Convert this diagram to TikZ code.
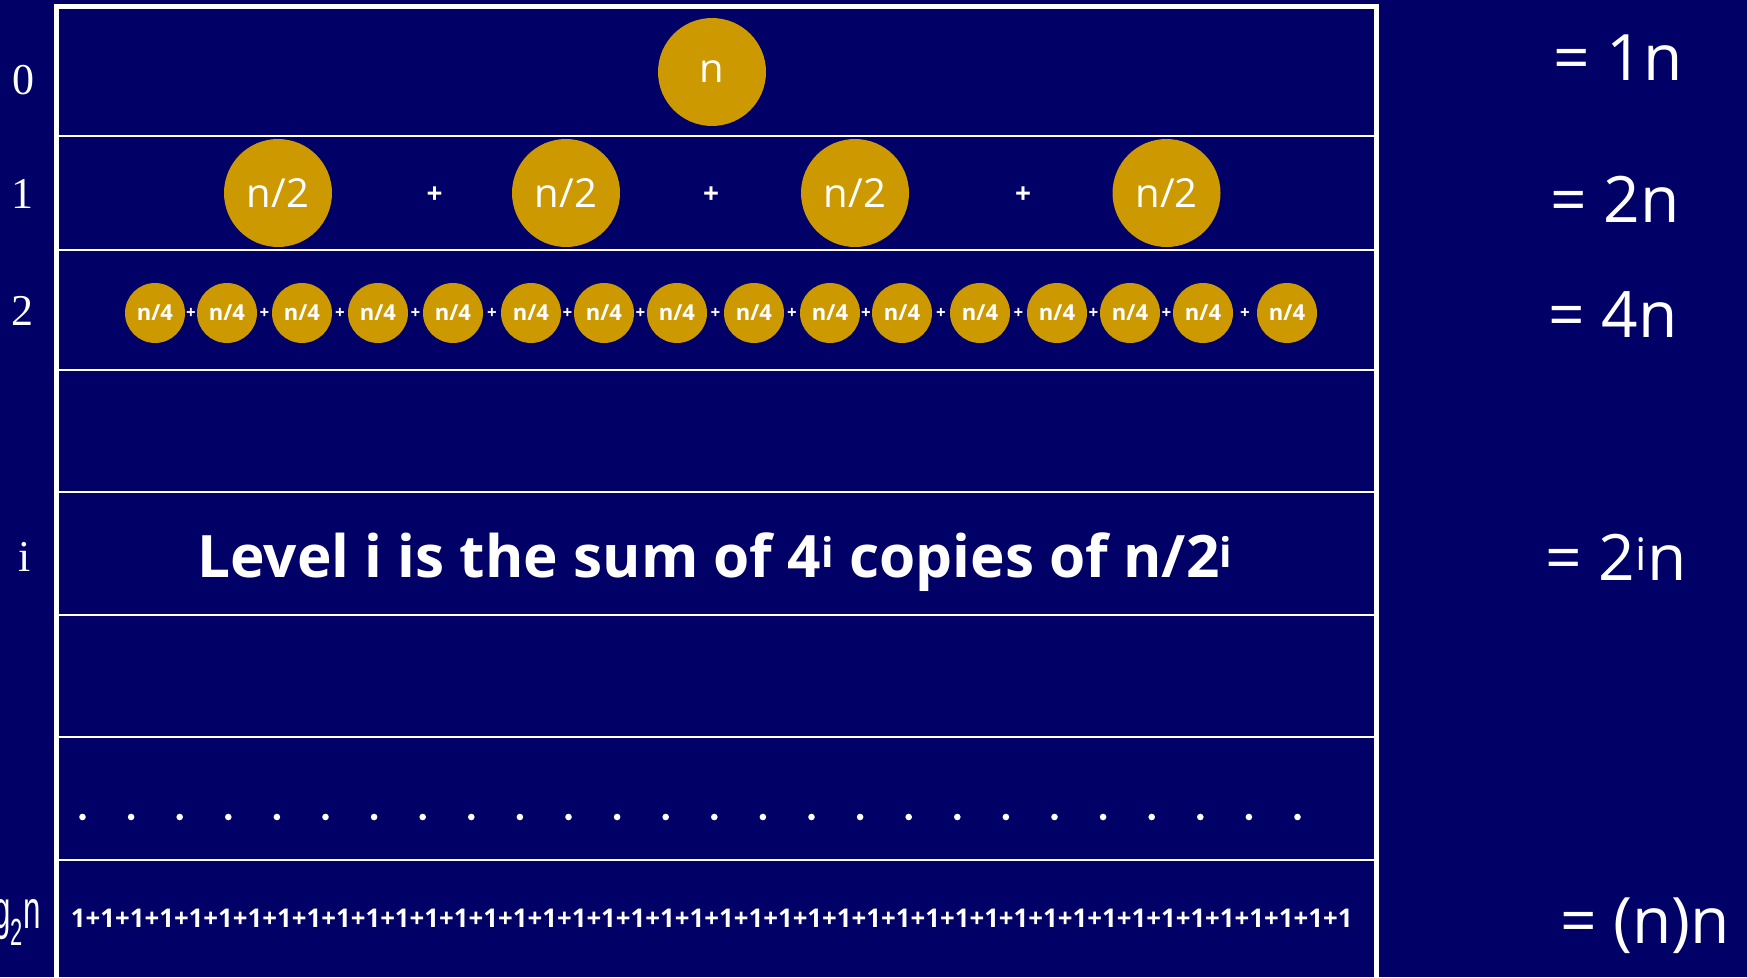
\documentclass[tikz,border=0pt]{standalone}
\usepackage{fontspec}
\setmainfont{Liberation Serif}
\newfontfamily\comicfont{Open Sans}
\newfontfamily\arialfont{Liberation Sans}
\usetikzlibrary{positioning}
\definecolor{slidebg}{RGB}{0,0,102}
\definecolor{gold}{RGB}{204,153,0}

\begin{document}
\begin{tikzpicture}[
  x=1pt, y=-1pt,
  big/.style={circle, fill=gold, minimum size=108pt, inner sep=0pt, text=white,
              font=\comicfont\fontsize{40}{44}\selectfont},
  small/.style={circle, fill=gold, minimum size=60pt, inner sep=0pt, text=white,
                font=\comicfont\bfseries\fontsize{22}{24}\selectfont},
  bigplus/.style={text=white, inner sep=0pt, font=\comicfont\bfseries\fontsize{28}{30}\selectfont},
  smallplus/.style={text=white, inner sep=0pt, font=\comicfont\bfseries\fontsize{17}{18}\selectfont},
  lvl/.style={text=white, inner sep=0pt, font=\fontsize{44}{48}\selectfont},
  total/.style={text=white, anchor=base, inner sep=0pt, font=\comicfont\fontsize{64}{70}\selectfont},
  rowline/.style={draw=white, line width=2.5pt}
]
\useasboundingbox (0,0) rectangle (1747,977);
\clip (0,0) rectangle (1747,977);
\fill[slidebg] (0,0) rectangle (1747,977);

% ===== Table frame and rows =====
\draw[white, line width=5pt] (56,6.5) rectangle (1376,1000);
\foreach \y in {136,250,370,492,615,737,860}
  \draw[rowline] (56,\y) -- (1376,\y);

% ===== Level numbers =====
\node[lvl] (l0) at (23.5,80) {0};
\node[lvl] (l1) at (23,194) {1};
\node[lvl] (l2) at (23,311) {2};
\node[lvl] (li) at (24.5,557) {i};
\node[text=white, anchor=base east, inner sep=0pt, font=\arialfont\fontsize{54}{58}\selectfont]
  (llg) at (41,928) {\scalebox{0.58}[1]{lg\textsubscript{2}n}};

% ===== Level 0 =====
\node[big] (n0) at (712,72) {n};

% ===== Level 1 =====
\node[big] (h1) at (278,193) {n/2};
\node[big] (h2) at (566,193) {n/2};
\node[big] (h3) at (855,193) {n/2};
\node[big] (h4) at (1166.5,193) {n/2};
\node[bigplus] (s1) at (434.5,195) {+};
\node[bigplus] (s2) at (711,195) {+};
\node[bigplus] (s3) at (1023,195) {+};

% ===== Level 2 =====
\foreach \x [count=\k] in {155,227,302,378,453,531,604,677,754,830,902,980,1057,1130,1203,1287}
  \node[small] (q\k) at (\x,313) {n/4};
\foreach \k [evaluate=\k as \j using int(\k+1)] in {1,...,15}
  \path (q\k) -- node[smallplus] (p\k) {+} (q\j);

% ===== Level i =====
\node[text=white, anchor=base, inner sep=0pt, font=\comicfont\bfseries\fontsize{58.5}{64}\selectfont]
  (lvltext) at (715,577) {Level i is the sum of 4\textsuperscript{i} copies of n/2\textsuperscript{i}};

% ===== Dots =====
\foreach \k in {0,...,25}
  \fill[white] (82.5+48.6*\k,817) circle (3.3);

% ===== Leaves =====
\node[text=white, anchor=base, inner sep=0pt, font=\comicfont\bfseries\fontsize{25.8}{28}\selectfont]
  (ones) at (711.5,927) {1+1+1+1+1+1+1+1+1+1+1+1+1+1+1+1+1+1+1+1+1+1+1+1+1+1+1+1+1+1+1+1+1+1+1+1+1+1+1+1+1+1+1+1};

% ===== Level totals =====
\node[total] (t0) at (1618,80) {= 1n};
\node[total] (t1) at (1615,222) {= 2n};
\node[total] (t2) at (1613,337) {= 4n};
\node[total] (ti) at (1616,580) {= 2\textsuperscript{i}n};
\node[total] (tn) at (1645,943) {= (n)n};

\end{tikzpicture}
\end{document}
